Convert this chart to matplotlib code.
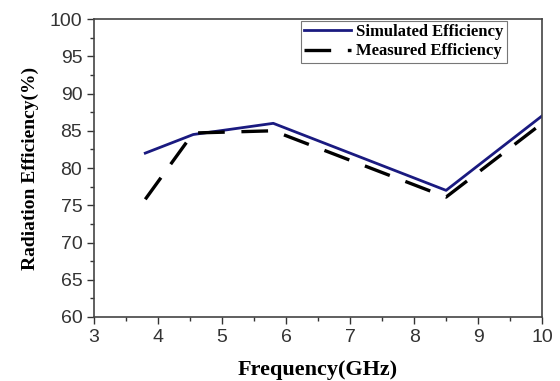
import matplotlib
matplotlib.use("Agg")
import matplotlib.pyplot as plt
from matplotlib.ticker import MultipleLocator

freq_sim = [3.8, 4.55, 5.8, 8.5, 10.0]
eff_sim = [82.0, 84.5, 86.0, 77.0, 87.0]
freq_meas = [3.8, 4.55, 5.8, 8.5, 10.0]
eff_meas = [75.8, 84.7, 85.0, 76.1, 86.0]

fig = plt.figure(figsize=(5.6, 3.81), dpi=100)
ax = fig.add_axes([0.168, 0.168, 0.800, 0.782])

ax.plot(freq_sim, eff_sim, color="#1a1a80", lw=2.0, label="Simulated Efficiency")
ax.plot(freq_meas, eff_meas, color="black", lw=2.4, dashes=(8, 5),
        label="Measured Efficiency")

ax.set_xlim(3, 10)
ax.set_ylim(60, 100)
ax.xaxis.set_major_locator(MultipleLocator(1))
ax.xaxis.set_minor_locator(MultipleLocator(0.5))
ax.yaxis.set_major_locator(MultipleLocator(5))
ax.yaxis.set_minor_locator(MultipleLocator(2.5))
ax.tick_params(which="major", direction="out", length=5, width=1, labelsize=14,
               labelcolor="#333333", color="#333333")
ax.tick_params(which="minor", direction="out", length=3, width=1, color="#333333")
for lab in ax.get_xticklabels() + ax.get_yticklabels():
    lab.set_family("Liberation Sans")
for s in ax.spines.values():
    s.set_color("#444444")
    s.set_linewidth(1.2)

ax.set_xlabel("Frequency(GHz)", family="Liberation Serif", weight="bold",
              fontsize=16, labelpad=10)
ax.set_ylabel("Radiation Efficiency(%)", family="Liberation Serif", weight="bold",
              fontsize=14, labelpad=8)

leg = ax.legend(loc="upper right", bbox_to_anchor=(0.925, 1.0),
                prop={"family": "Liberation Serif", "weight": "bold", "size": 12},
                frameon=True, fancybox=False, borderpad=0.2, handlelength=2.8,
                labelspacing=0.2, handletextpad=0.3, borderaxespad=0.1)
leg.get_frame().set_edgecolor("#555555")
leg.get_frame().set_linewidth(0.8)

fig.savefig("out.png", dpi=100)
